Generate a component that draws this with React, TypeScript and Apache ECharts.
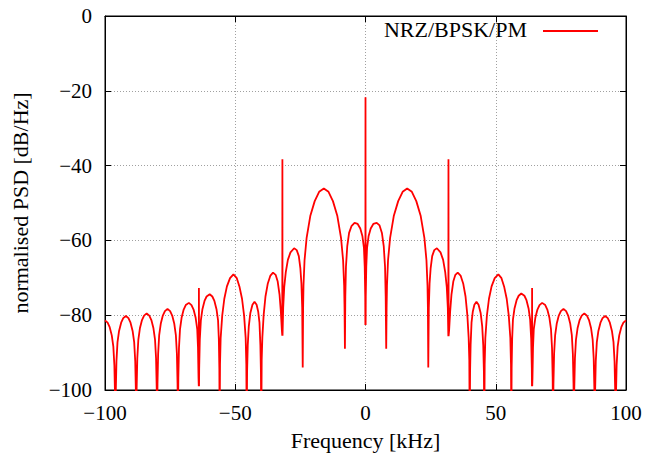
import React, { useEffect, useRef } from "react";
import * as echarts from "echarts";

// x tick values and y tick values
const xTicks = [-100, -50, 0, 50, 100];
const yTicks = [-100, -80, -60, -40, -20, 0];

// PSD trace: [frequency kHz, PSD dB/Hz]
const outerLeft: number[][] = [
  [-100, -81.4], [-99, -82.0], [-98.2, -83.2], [-97.4, -85.4], [-96.8, -88.4], [-96.4, -93.4], [-96.15, -101.4], [-96, -110],
  [-95.85, -100.2], [-95.6, -92.2], [-95.2, -87.2], [-94.6, -84.2], [-93.8, -82.0], [-93.0, -80.8], [-92, -80.2], [-91.0, -80.8], [-90.2, -82.0], [-89.4, -84.2], [-88.8, -87.2], [-88.4, -92.2], [-88.15, -100.2], [-88, -110],
  [-87.85, -99.5], [-87.6, -91.5], [-87.2, -86.5], [-86.6, -83.5], [-85.8, -81.3], [-85.0, -80.1], [-84, -79.5], [-83.0, -80.1], [-82.2, -81.3], [-81.4, -83.5], [-80.8, -86.5], [-80.4, -91.5], [-80.15, -99.5], [-80, -110],
  [-79.85, -98.3], [-79.6, -90.3], [-79.2, -85.3], [-78.6, -82.3], [-77.8, -80.1], [-77.0, -78.9], [-76, -78.3], [-75.0, -78.9], [-74.2, -80.1], [-73.4, -82.3], [-72.8, -85.3], [-72.4, -90.3], [-72.15, -98.3], [-72, -110],
  [-71.85, -96.7], [-71.6, -88.7], [-71.2, -83.7], [-70.6, -80.7], [-69.8, -78.5], [-69.0, -77.3], [-67.8, -76.7], [-66.8, -77.3], [-66.0, -78.5], [-65.2, -80.7], [-64.6, -83.7], [-64.3, -88.7], [-64.1, -96.7], [-64, -99], [-63.95, -72.7], [-63.9, -99],
  [-63.85, -94.4], [-63.6, -86.4], [-63.2, -81.4], [-62.6, -78.4], [-61.8, -76.2], [-61.0, -75.0], [-59.8, -74.4], [-58.8, -75.0], [-58.0, -76.2], [-57.2, -78.4], [-56.6, -81.4], [-56.3, -86.4], [-56.1, -94.4], [-56, -110],
];

const innerLeft: number[][] = [
  [-55.85, -93.1], [-55.6, -86.1], [-55.0, -80.1], [-54.2, -75.6], [-53.2, -72.3], [-52.0, -70.1], [-50.7, -69.1], [-49.4, -70.1], [-48.4, -72.3], [-47.4, -75.6], [-46.6, -80.1], [-46.0, -86.1], [-45.75, -93.1], [-45.6, -110],
  [-45.45, -95], [-45.2, -88], [-44.8, -83], [-44.2, -79.4], [-43.4, -77.2], [-42.6, -76.4], [-41.8, -77.2], [-41.2, -79], [-40.7, -82], [-40.35, -88], [-40.15, -95], [-40, -110],
  [-39.85, -92], [-39.6, -86], [-39.1, -80], [-38.4, -75], [-37.5, -71.5], [-36.5, -69.4], [-35.5, -68.6], [-34.5, -69.2], [-33.7, -71], [-33.0, -74.5], [-32.5, -79], [-32.1, -84], [-31.95, -85.5], [-31.9, -38.3], [-31.85, -85.5],
  [-31.6, -78], [-31.2, -72.5], [-30.6, -68.5], [-29.8, -65.2], [-28.8, -63.2], [-27.4, -62.1], [-26.4, -62.6], [-25.6, -64.2], [-25.0, -67.5], [-24.6, -71.5], [-24.3, -78], [-24.1, -94],
];

const centre: number[][] = [
  [-23.95, -78], [-23.8, -72], [-23.4, -65.3], [-22.6, -59.3], [-21.2, -53.5], [-19.5, -49.5], [-17.8, -47], [-16, -46.1], [-14.2, -47], [-12.5, -49.5], [-10.8, -53.5], [-9.4, -59.3], [-8.6, -65.3], [-8.2, -72], [-8.05, -78], [-7.9, -89],
  [-7.75, -75], [-7.5, -67], [-7.0, -61.5], [-6.3, -58], [-5.4, -56.2], [-4.2, -55.3], [-3.0, -55.6], [-2.0, -56.8], [-1.2, -58.8], [-0.6, -62], [-0.3, -67], [-0.1, -75], [-0.05, -82.6], [0, -21.7], [0.05, -82.6],
  [0.1, -75], [0.3, -67], [0.6, -62], [1.2, -58.8], [2.0, -56.8], [3.0, -55.6], [4.3, -55.3], [5.4, -56.0], [6.3, -58], [7.0, -61.5], [7.5, -67], [7.75, -75], [7.95, -89],
  [8.1, -78], [8.25, -72], [8.65, -65.3], [9.45, -59.3], [10.85, -53.5], [12.55, -49.5], [14.25, -47], [16, -46.1], [17.8, -47], [19.5, -49.5], [21.2, -53.5], [22.6, -59.3], [23.4, -65.3], [23.8, -72], [23.95, -78], [24.1, -94],
];

const innerRight: number[][] = [
  [24.3, -78], [24.6, -71.5], [25.0, -67.5], [25.6, -64.2], [26.4, -62.6], [27.4, -62.1], [28.8, -63.2], [29.8, -65.2], [30.6, -68.5], [31.2, -72.5], [31.6, -78], [31.8, -85.6], [31.85, -38.3], [31.9, -85.6],
  [32.1, -84], [32.5, -79], [33.0, -74.5], [33.7, -71], [34.5, -69.2], [35.4, -68.6], [36.5, -69.4], [37.5, -71.5], [38.4, -75], [39.1, -80], [39.6, -86], [39.85, -92], [40, -110],
  [40.15, -95], [40.35, -88], [40.7, -82], [41.2, -79], [41.8, -77.2], [42.6, -76.4], [43.4, -77.2], [44.2, -79.4], [44.8, -83], [45.2, -88], [45.45, -95], [45.6, -110],
  [45.75, -93.1], [46.0, -86.1], [46.6, -80.1], [47.4, -75.6], [48.4, -72.3], [49.6, -70.1], [51.0, -69.1], [52.2, -70.1], [53.2, -72.3], [54.2, -75.6], [55.0, -80.1], [55.6, -86.1], [55.85, -93.1], [56, -110],
];

const outerRight: number[][] = [
  [56.1, -94.2], [56.3, -86.2], [56.6, -81.2], [57.2, -78.2], [58.0, -76.0], [58.8, -74.8], [59.8, -74.2], [61.0, -74.8], [61.8, -76.0], [62.6, -78.2], [63.2, -81.2], [63.6, -86.2], [63.85, -94.2], [63.9, -99], [63.95, -72.7], [64, -99],
  [64.1, -96.7], [64.3, -88.7], [64.6, -83.7], [65.2, -80.7], [66.0, -78.5], [66.8, -77.3], [67.8, -76.7], [69.0, -77.3], [69.8, -78.5], [70.6, -80.7], [71.2, -83.7], [71.6, -88.7], [71.85, -96.7], [72, -110],
  [72.15, -98.3], [72.4, -90.3], [72.8, -85.3], [73.4, -82.3], [74.2, -80.1], [75.0, -78.9], [76, -78.3], [77.0, -78.9], [77.8, -80.1], [78.6, -82.3], [79.2, -85.3], [79.6, -90.3], [79.85, -98.3], [80, -110],
  [80.15, -99.5], [80.4, -91.5], [80.8, -86.5], [81.4, -83.5], [82.2, -81.3], [83.0, -80.1], [84, -79.5], [85.0, -80.1], [85.8, -81.3], [86.6, -83.5], [87.2, -86.5], [87.6, -91.5], [87.85, -99.5], [88, -110],
  [88.15, -100.2], [88.4, -92.2], [88.8, -87.2], [89.4, -84.2], [90.2, -82.0], [91.0, -80.8], [92, -80.2], [93.0, -80.8], [93.8, -82.0], [94.6, -84.2], [95.2, -87.2], [95.6, -92.2], [95.85, -100.2], [96, -110],
  [96.15, -101.4], [96.4, -93.4], [96.8, -88.4], [97.4, -85.4], [98.2, -83.2], [99, -82.0], [100, -81.4],
];

const seriesName = "NRZ/BPSK/PM";
const xTitle = "Frequency [kHz]";
const yTitle = "normalised PSD [dB/Hz]";

const FONT = "'Liberation Serif', 'DejaVu Serif', serif";
const fmt = (v: number) => String(v).replace("-", "\u2212");

export default function App() {
  const ref = useRef<HTMLDivElement>(null);
  useEffect(() => {
    if (!ref.current) return;
    const chart = echarts.init(ref.current, undefined, { renderer: "svg" });
    const data = [...outerLeft, ...innerLeft, ...centre, ...innerRight, ...outerRight];
    const gridLeft = 105, gridRight = 21, gridTop = 16, gridBottom = 69;
    const splitLine = { show: true, lineStyle: { color: "#a0a0a0", type: [1, 2] as any, width: 1 } };
    const tick = { show: true, inside: true, length: 6, lineStyle: { color: "#000", width: 1 } };
    chart.setOption({
      animation: false,
      backgroundColor: "#fff",
      grid: { left: gridLeft, right: gridRight, top: gridTop, bottom: gridBottom, show: true, borderColor: "#000", borderWidth: 1 },
      xAxis: [
        {
          type: "value", min: xTicks[0], max: xTicks[xTicks.length - 1], interval: 50,
          name: xTitle, nameLocation: "middle", nameGap: 39,
          nameTextStyle: { fontFamily: FONT, fontSize: 22, color: "#000" },
          axisLine: { show: true, onZero: false, lineStyle: { color: "#000", width: 1 } },
          axisTick: tick,
          axisLabel: { fontFamily: FONT, fontSize: 21, color: "#000", margin: 12, formatter: fmt },
          splitLine,
        },
        {
          type: "value", position: "top", min: -100, max: 100, interval: 50,
          axisLine: { show: true, onZero: false, lineStyle: { color: "#000" } },
          axisTick: tick, axisLabel: { show: false }, splitLine: { show: false },
        },
      ],
      yAxis: [
        {
          type: "value", min: yTicks[0], max: yTicks[yTicks.length - 1], interval: 20,
          name: yTitle, nameLocation: "middle", nameGap: 74,
          nameTextStyle: { fontFamily: FONT, fontSize: 22, color: "#000" },
          axisLine: { show: true, onZero: false, lineStyle: { color: "#000", width: 1 } },
          axisTick: tick,
          axisLabel: { fontFamily: FONT, fontSize: 21, color: "#000", margin: 13, formatter: fmt },
          splitLine,
        },
        {
          type: "value", position: "right", min: -100, max: 0, interval: 20,
          axisLine: { show: true, onZero: false, lineStyle: { color: "#000" } },
          axisTick: tick, axisLabel: { show: false }, splitLine: { show: false },
        },
      ],
      series: [
        {
          name: seriesName, type: "line", data, showSymbol: false, symbol: "none",
          lineStyle: { color: "#ff0000", width: 1.8 }, clip: true, z: 3,
        },
      ],
      graphic: [
        { type: "text", right: 647 - 527, top: 18, style: { text: seriesName, fontFamily: FONT, fontSize: 22, fill: "#000", textAlign: "right" } },
        { type: "line", shape: { x1: 543, y1: 31, x2: 598, y2: 31 }, style: { stroke: "#ff0000", lineWidth: 1.8 } },
      ],
    });
    return () => chart.dispose();
  }, []);
  return <div ref={ref} style={{ position: "fixed", left: 0, top: 0, width: 647, height: 459 }} />;
}
